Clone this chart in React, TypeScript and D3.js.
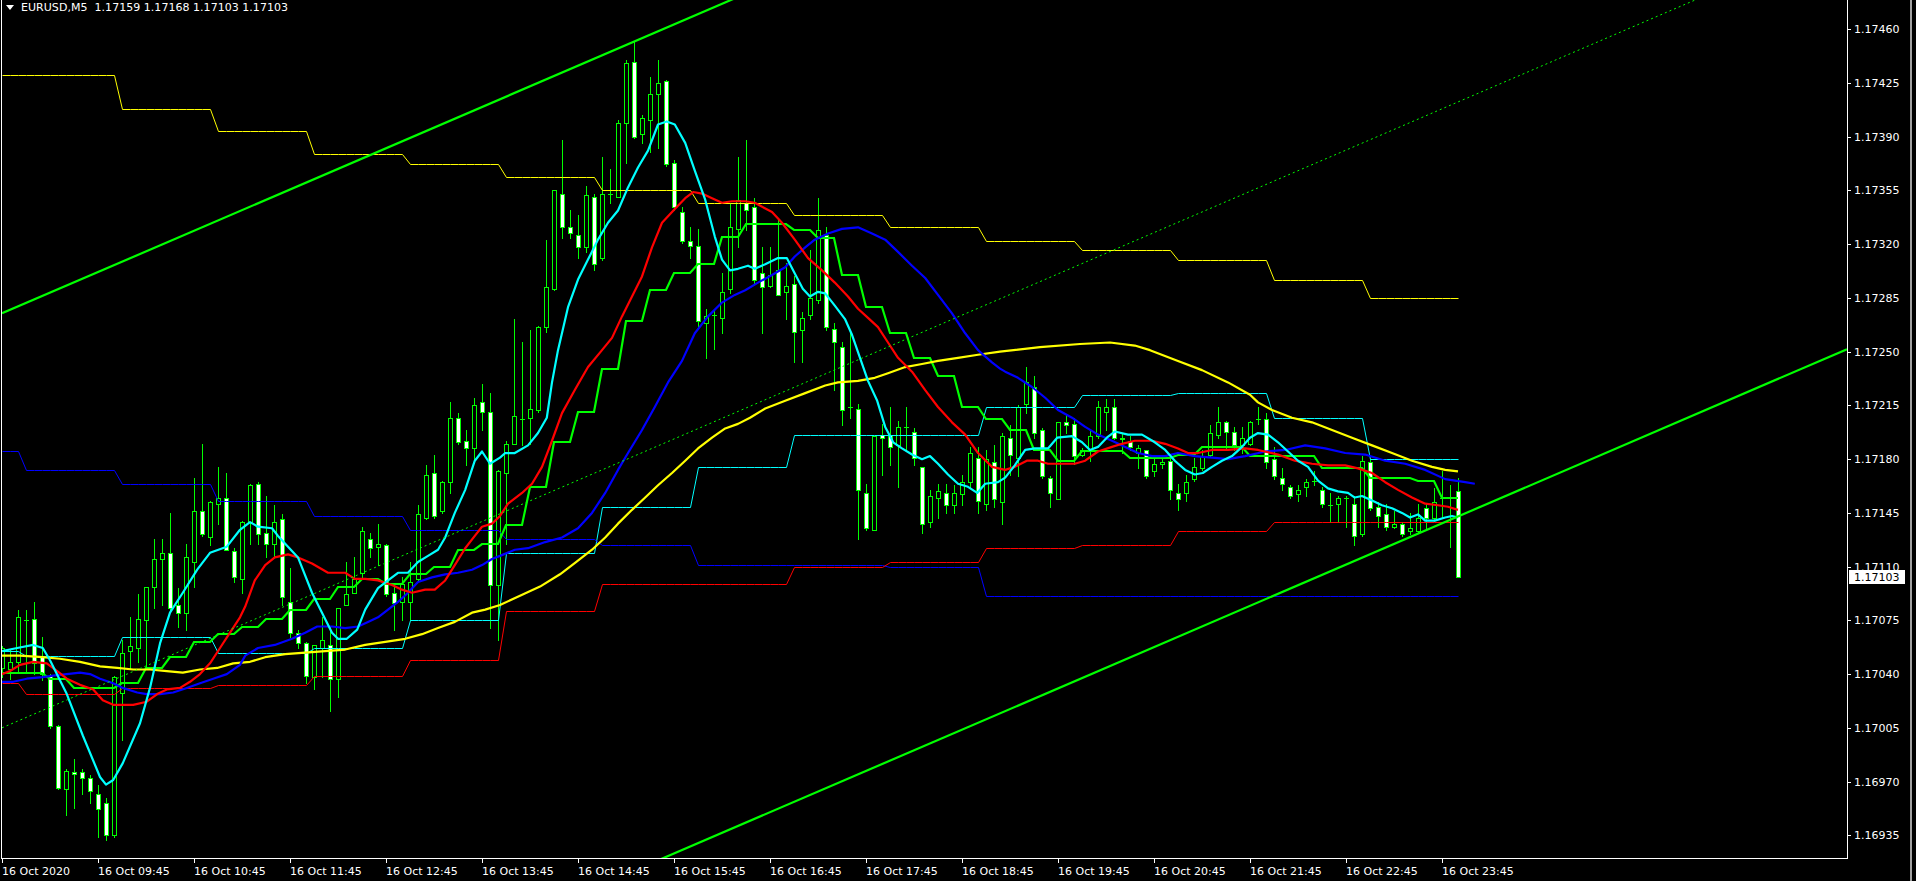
import React from "react";
import * as d3 from "d3";

// ---------- DATA (EURUSD M5, 16 Oct 2020 08:45 .. 23:55) ----------
const candleOpen = [1.17044,1.17043,1.17048,1.17075,1.17076,1.17051,1.17039,1.17006,1.16965,1.16976,1.16976,1.16972,1.16962,1.16956,1.16935,1.17028,1.17055,1.17057,1.17075,1.17097,1.17115,1.17119,1.17085,1.17080,1.17113,1.17146,1.17129,1.17151,1.17155,1.17120,1.17102,1.17139,1.17164,1.17132,1.17125,1.17141,1.17087,1.17067,1.17060,1.17038,1.17057,1.17059,1.17037,1.17085,1.17093,1.17106,1.17128,1.17123,1.17124,1.17093,1.17087,1.17087,1.17102,1.17142,1.17171,1.17146,1.17165,1.17207,1.17192,1.17187,1.17217,1.17211,1.17098,1.17171,1.17190,1.17206,1.17207,1.17212,1.17266,1.17291,1.17353,1.17331,1.17326,1.17318,1.17351,1.17311,1.17353,1.17351,1.17399,1.17439,1.17392,1.17401,1.17418,1.17426,1.17373,1.17341,1.17322,1.17319,1.17269,1.17274,1.17272,1.17291,1.17330,1.17347,1.17344,1.17301,1.17293,1.17303,1.17289,1.17294,1.17264,1.17274,1.17284,1.17326,1.17265,1.17253,1.17214,1.17213,1.17158,1.17134,1.17196,1.17196,1.17189,1.17201,1.17198,1.17175,1.17139,1.17155,1.17158,1.17150,1.17157,1.17165,1.17181,1.17151,1.17178,1.17152,1.17194,1.17181,1.17216,1.17227,1.17199,1.17168,1.17154,1.17204,1.17203,1.17183,1.17186,1.17195,1.17211,1.17214,1.17193,1.17192,1.17184,1.17186,1.17172,1.17177,1.17179,1.17158,1.17158,1.17167,1.17174,1.17183,1.17196,1.17204,1.17198,1.17189,1.17190,1.17206,1.17206,1.17180,1.17168,1.17162,1.17157,1.17162,1.17166,1.17160,1.17150,1.17151,1.17155,1.17151,1.17131,1.17178,1.17149,1.17144,1.17136,1.17138,1.17133,1.17133,1.17148,1.17142,1.17155,1.17155,1.17159];
const candleHigh = [1.17058,1.17056,1.17082,1.17082,1.17087,1.17064,1.17040,1.17007,1.16978,1.16985,1.16978,1.16974,1.16968,1.16959,1.17039,1.17062,1.17077,1.17092,1.17097,1.17128,1.17128,1.17145,1.17096,1.17125,1.17168,1.17190,1.17153,1.17175,1.17171,1.17122,1.17140,1.17164,1.17165,1.17156,1.17150,1.17144,1.17109,1.17069,1.17061,1.17059,1.17077,1.17071,1.17083,1.17113,1.17116,1.17136,1.17132,1.17138,1.17125,1.17099,1.17103,1.17113,1.17150,1.17176,1.17183,1.17166,1.17217,1.17210,1.17199,1.17220,1.17229,1.17223,1.17173,1.17192,1.17271,1.17256,1.17264,1.17267,1.17323,1.17355,1.17388,1.17342,1.17339,1.17358,1.17353,1.17377,1.17369,1.17401,1.17440,1.17452,1.17404,1.17429,1.17440,1.17427,1.17375,1.17344,1.17331,1.17330,1.17278,1.17278,1.17301,1.17347,1.17377,1.17388,1.17350,1.17318,1.17318,1.17337,1.17308,1.17299,1.17276,1.17316,1.17350,1.17331,1.17269,1.17256,1.17264,1.17216,1.17164,1.17195,1.17203,1.17214,1.17205,1.17214,1.17200,1.17175,1.17160,1.17164,1.17164,1.17163,1.17170,1.17188,1.17188,1.17186,1.17189,1.17197,1.17202,1.17215,1.17240,1.17234,1.17200,1.17169,1.17204,1.17209,1.17207,1.17187,1.17199,1.17218,1.17219,1.17219,1.17197,1.17195,1.17189,1.17186,1.17181,1.17181,1.17182,1.17164,1.17170,1.17181,1.17186,1.17202,1.17214,1.17205,1.17201,1.17201,1.17205,1.17214,1.17210,1.17188,1.17174,1.17163,1.17163,1.17167,1.17172,1.17162,1.17158,1.17156,1.17156,1.17156,1.17182,1.17180,1.17152,1.17151,1.17146,1.17139,1.17145,1.17151,1.17151,1.17161,1.17172,1.17163,1.17168];
const candleLow = [1.17038,1.17037,1.17041,1.17041,1.17040,1.17036,1.17005,1.16965,1.16948,1.16953,1.16962,1.16956,1.16934,1.16932,1.16934,1.16997,1.17044,1.17048,1.17044,1.17083,1.17085,1.17082,1.17071,1.17069,1.17097,1.17130,1.17124,1.17138,1.17121,1.17100,1.17093,1.17125,1.17125,1.17116,1.17116,1.17085,1.17064,1.17057,1.17034,1.17030,1.17038,1.17016,1.17025,1.17085,1.17093,1.17103,1.17116,1.17111,1.17091,1.17069,1.17075,1.17075,1.17101,1.17141,1.17142,1.17145,1.17158,1.17190,1.17176,1.17179,1.17199,1.17070,1.17062,1.17125,1.17190,1.17189,1.17190,1.17211,1.17263,1.17290,1.17324,1.17324,1.17311,1.17315,1.17303,1.17310,1.17347,1.17351,1.17373,1.17389,1.17386,1.17380,1.17383,1.17371,1.17342,1.17321,1.17311,1.17267,1.17246,1.17252,1.17262,1.17288,1.17318,1.17329,1.17295,1.17262,1.17292,1.17287,1.17271,1.17243,1.17243,1.17271,1.17282,1.17264,1.17225,1.17202,1.17207,1.17128,1.17134,1.17134,1.17170,1.17176,1.17162,1.17186,1.17176,1.17132,1.17136,1.17142,1.17145,1.17145,1.17150,1.17162,1.17145,1.17147,1.17149,1.17138,1.17170,1.17169,1.17210,1.17194,1.17168,1.17149,1.17154,1.17197,1.17177,1.17182,1.17179,1.17194,1.17199,1.17193,1.17184,1.17186,1.17174,1.17168,1.17169,1.17174,1.17154,1.17147,1.17153,1.17166,1.17173,1.17182,1.17194,1.17186,1.17186,1.17184,1.17189,1.17203,1.17174,1.17167,1.17160,1.17155,1.17153,1.17156,1.17163,1.17149,1.17139,1.17139,1.17136,1.17124,1.17130,1.17147,1.17136,1.17134,1.17135,1.17130,1.17131,1.17132,1.17134,1.17140,1.17142,1.17123,1.17103];
const candleClose = [1.17057,1.17048,1.17077,1.17075,1.17047,1.17040,1.17006,1.16966,1.16977,1.16975,1.16972,1.16964,1.16952,1.16935,1.17038,1.17054,1.17058,1.17076,1.17097,1.17115,1.17119,1.17083,1.17080,1.17116,1.17146,1.17131,1.17152,1.17155,1.17121,1.17103,1.17139,1.17163,1.17131,1.17125,1.17139,1.17090,1.17067,1.17060,1.17039,1.17059,1.17062,1.17037,1.17083,1.17092,1.17102,1.17133,1.17122,1.17125,1.17092,1.17086,1.17099,1.17100,1.17144,1.17170,1.17143,1.17165,1.17207,1.17191,1.17187,1.17215,1.17211,1.17098,1.17172,1.17190,1.17208,1.17206,1.17213,1.17266,1.17292,1.17355,1.17331,1.17327,1.17318,1.17352,1.17307,1.17353,1.17353,1.17399,1.17438,1.17390,1.17402,1.17418,1.17425,1.17372,1.17344,1.17322,1.17319,1.17270,1.17273,1.17274,1.17289,1.17331,1.17349,1.17342,1.17297,1.17292,1.17300,1.17287,1.17293,1.17263,1.17272,1.17285,1.17329,1.17266,1.17256,1.17212,1.17214,1.17160,1.17135,1.17195,1.17194,1.17188,1.17201,1.17201,1.17181,1.17138,1.17156,1.17159,1.17150,1.17158,1.17165,1.17184,1.17153,1.17180,1.17154,1.17195,1.17183,1.17214,1.17230,1.17197,1.17169,1.17158,1.17204,1.17202,1.17182,1.17186,1.17195,1.17214,1.17214,1.17194,1.17194,1.17188,1.17187,1.17169,1.17177,1.17178,1.17160,1.17154,1.17165,1.17175,1.17182,1.17197,1.17204,1.17198,1.17189,1.17194,1.17204,1.17206,1.17178,1.17169,1.17164,1.17156,1.17160,1.17165,1.17166,1.17151,1.17150,1.17155,1.17155,1.17130,1.17179,1.17148,1.17143,1.17136,1.17138,1.17131,1.17135,1.17142,1.17142,1.17152,1.17155,1.17155,1.17103];

// moving averages: [bar index, price]
const maCyan: [number, number][] = [[0,1.17055],[1.9,1.17057],[3.9,1.17059],[5.1,1.17057],[6,1.17049],[8.1,1.17027],[10.1,1.17000],[12.25,1.16973],[13,1.16968],[13.9,1.16971],[15.1,1.16982],[17.25,1.17008],[18.5,1.17031],[19.75,1.17060],[21,1.17080],[22.6,1.17093],[24.4,1.17108],[26,1.17119],[28.1,1.17123],[29.75,1.17134],[31,1.17139],[32,1.17136],[33.75,1.17135],[34.5,1.17130],[35.75,1.17123],[37,1.17116],[38.75,1.17093],[40,1.17080],[41.25,1.17067],[42,1.17063],[43.1,1.17063],[44.4,1.17069],[45.4,1.17082],[47,1.17096],[48.25,1.17101],[49.5,1.17106],[50.75,1.17106],[52,1.17113],[53.25,1.17117],[54.5,1.17121],[55.4,1.17129],[56.6,1.17145],[57.9,1.17160],[59.1,1.17179],[60,1.17185],[61,1.17177],[62.25,1.17181],[62.9,1.17184],[64.1,1.17184],[65.75,1.17189],[67,1.17197],[68.1,1.17207],[68.75,1.17230],[69.5,1.17251],[70.75,1.17279],[72,1.17297],[73.25,1.17310],[74.5,1.17323],[75.75,1.17334],[77,1.17342],[78.25,1.17357],[79.5,1.17370],[80.75,1.17381],[82,1.17398],[83.1,1.17400],[84.1,1.17398],[85.4,1.17386],[86.6,1.17368],[87.9,1.17349],[89.1,1.17325],[90,1.17310],[91,1.17303],[92,1.17304],[93.25,1.17306],[94.1,1.17304],[95.4,1.17307],[97,1.17311],[98.1,1.17311],[99.1,1.17301],[100.1,1.17291],[101,1.17286],[102,1.17289],[102.9,1.17288],[104.1,1.17280],[105.4,1.17271],[106.25,1.17261],[107.25,1.17246],[108.25,1.17231],[109.4,1.17218],[110.4,1.17201],[111.4,1.17191],[112.5,1.17187],[113.75,1.17183],[115,1.17180],[116,1.17182],[117,1.17177],[118.25,1.17170],[119.5,1.17164],[120.75,1.17162],[121.9,1.17158],[122.9,1.17164],[124.5,1.17165],[125.4,1.17168],[126.6,1.17176],[127.9,1.17186],[129.1,1.17187],[130.75,1.17187],[131.9,1.17194],[133.75,1.17195],[135,1.17191],[136,1.17186],[137,1.17188],[138.1,1.17194],[139.1,1.17198],[140.75,1.17196],[142.5,1.17196],[144.1,1.17191],[145.4,1.17186],[146.6,1.17179],[147.9,1.17173],[149.1,1.17170],[150.1,1.17171],[151.25,1.17175],[152.5,1.17179],[153.75,1.17182],[155,1.17188],[156,1.17194],[157,1.17197],[158.25,1.17196],[159.5,1.17191],[160.75,1.17185],[162,1.17179],[163.25,1.17175],[164.5,1.17166],[165.75,1.17161],[167,1.17159],[168.25,1.17158],[169.1,1.17155],[170,1.17156],[171.25,1.17153],[172.5,1.17150],[173.75,1.17148],[175,1.17145],[176,1.17142],[177,1.17144],[177.9,1.17140],[179.1,1.17140],[180.4,1.17142],[181.25,1.17143],[182,1.17142]];
const maRed: [number, number][] = [[0,1.17040],[1,1.17042],[2.25,1.17046],[3.9,1.17048],[5.6,1.17047],[6.9,1.17042],[8.1,1.17037],[9.75,1.17033],[11.4,1.17030],[12.6,1.17023],[13.9,1.17020],[16.4,1.17020],[18.1,1.17022],[19.4,1.17027],[20.6,1.17030],[22.25,1.17031],[23.5,1.17035],[24.75,1.17040],[26,1.17047],[27.25,1.17057],[28.5,1.17067],[29.75,1.17077],[30.4,1.17084],[31.6,1.17101],[32.9,1.17111],[34.1,1.17116],[35.75,1.17118],[37,1.17116],[38.75,1.17112],[40.75,1.17106],[42.9,1.17106],[44.1,1.17102],[45.4,1.17102],[47,1.17101],[48.75,1.17098],[50,1.17095],[51.25,1.17093],[52.9,1.17095],[54.1,1.17095],[55.4,1.17101],[56.6,1.17111],[57.9,1.17122],[59.1,1.17130],[60,1.17136],[61.25,1.17138],[62.25,1.17143],[63.25,1.17151],[65,1.17158],[66.25,1.17164],[67.5,1.17175],[68.75,1.17192],[70,1.17210],[71.6,1.17225],[73.25,1.17240],[75,1.17251],[76.25,1.17259],[77.5,1.17273],[78.75,1.17286],[80,1.17299],[81.25,1.17318],[82.5,1.17334],[84.1,1.17343],[85.4,1.17350],[86.4,1.17354],[87.5,1.17353],[88.75,1.17350],[90,1.17347],[91.25,1.17348],[92.9,1.17348],[94.1,1.17347],[96.25,1.17341],[97.5,1.17334],[99.1,1.17323],[100.75,1.17311],[102.5,1.17303],[104.1,1.17295],[105.75,1.17286],[107,1.17278],[108.25,1.17272],[109.5,1.17266],[110.75,1.17256],[112,1.17246],[113.75,1.17237],[115.4,1.17225],[117,1.17214],[118.75,1.17204],[120.4,1.17196],[122,1.17184],[123.75,1.17175],[125.4,1.17173],[126.6,1.17175],[128.1,1.17179],[129.5,1.17179],[130.75,1.17177],[132.5,1.17177],[134.1,1.17177],[135.4,1.17179],[137,1.17185],[138.75,1.17188],[140,1.17190],[141.6,1.17192],[143.75,1.17192],[145.4,1.17190],[147,1.17187],[148.25,1.17184],[149.5,1.17184],[151.25,1.17186],[153.25,1.17186],[155.4,1.17187],[157,1.17186],[159.5,1.17183],[161.6,1.17179],[163.75,1.17177],[165.75,1.17176],[167.9,1.17176],[169.5,1.17174],[171.25,1.17171],[172.9,1.17165],[174.5,1.17160],[176.25,1.17155],[177.9,1.17151],[179.5,1.17150],[180.75,1.17149],[182,1.17147]];
const maBlue: [number, number][] = [[0,1.17035],[1.4,1.17035],[3.1,1.17037],[5.1,1.17038],[6.4,1.17039],[8.1,1.17040],[9.75,1.17041],[11,1.17040],[12.25,1.17037],[13.9,1.17034],[15.1,1.17031],[16.9,1.17028],[18.1,1.17027],[19.75,1.17027],[21.4,1.17028],[23.1,1.17031],[24.75,1.17034],[26.4,1.17037],[28.1,1.17040],[29.75,1.17046],[30.4,1.17052],[32,1.17057],[34.1,1.17059],[36.25,1.17063],[37.9,1.17067],[39.4,1.17071],[41.25,1.17071],[42.9,1.17070],[44.5,1.17071],[45.75,1.17074],[47,1.17077],[48.25,1.17082],[49.5,1.17087],[50.75,1.17093],[52,1.17100],[53.75,1.17103],[55.4,1.17105],[57,1.17106],[58.75,1.17108],[60,1.17111],[61.25,1.17115],[62.25,1.17117],[64.1,1.17121],[65.75,1.17122],[67.9,1.17126],[70,1.17129],[72,1.17135],[73.75,1.17145],[75.4,1.17158],[77,1.17173],[78.25,1.17184],[80,1.17199],[81.6,1.17214],[83.25,1.17230],[85,1.17244],[86.6,1.17262],[88.25,1.17273],[90,1.17282],[91.6,1.17287],[92.9,1.17290],[94.5,1.17295],[96.25,1.17300],[97.9,1.17305],[99.1,1.17312],[100.4,1.17318],[101.6,1.17323],[103.25,1.17327],[105,1.17330],[107,1.17331],[108.75,1.17327],[110.4,1.17323],[112,1.17315],[113.75,1.17306],[115.4,1.17298],[117,1.17287],[118.75,1.17275],[120.4,1.17262],[122,1.17251],[123.75,1.17243],[124.75,1.17239],[125.4,1.17237],[127,1.17233],[128.75,1.17227],[130.4,1.17220],[132,1.17212],[133.75,1.17207],[135.4,1.17201],[137,1.17196],[138.75,1.17192],[140.4,1.17188],[142,1.17184],[143.75,1.17182],[145.4,1.17182],[147,1.17184],[149.1,1.17182],[151.25,1.17181],[153.25,1.17180],[155.4,1.17182],[157.9,1.17185],[160.4,1.17186],[162.9,1.17189],[165.4,1.17187],[167.9,1.17184],[170.4,1.17183],[172.9,1.17179],[175.4,1.17177],[177.9,1.17173],[180.4,1.17167],[182.9,1.17165],[184.1,1.17164]];
const maYellow: [number, number][] = [[0,1.17052],[2.25,1.17052],[5.1,1.17051],[7.25,1.17050],[9.75,1.17048],[12.25,1.17045],[14.4,1.17044],[16.4,1.17043],[18.5,1.17043],[20.6,1.17042],[22.6,1.17041],[24.75,1.17043],[26.9,1.17044],[28.9,1.17047],[31,1.17048],[32.9,1.17051],[35.4,1.17053],[37.9,1.17054],[40.4,1.17055],[42.9,1.17056],[45.4,1.17059],[47.9,1.17061],[50.4,1.17063],[52.5,1.17066],[54.5,1.17070],[56.6,1.17074],[58.75,1.17080],[60.4,1.17082],[62.25,1.17085],[64.75,1.17091],[67.25,1.17097],[69.75,1.17105],[71.75,1.17113],[73.75,1.17121],[75.4,1.17129],[77,1.17138],[78.75,1.17147],[80.4,1.17155],[82,1.17163],[83.75,1.17171],[85.4,1.17179],[87,1.17187],[88.75,1.17194],[90.4,1.17200],[92,1.17203],[93.5,1.17207],[95.4,1.17213],[97.9,1.17218],[100.4,1.17223],[102.9,1.17228],[104.5,1.17230],[107,1.17231],[109.1,1.17233],[110.75,1.17236],[112.9,1.17240],[115,1.17242],[117,1.17244],[119.5,1.17246],[122,1.17248],[124.75,1.17250],[129.75,1.17253],[134.75,1.17255],[138.5,1.17256],[141.6,1.17254],[143.5,1.17251],[147,1.17244],[150,1.17238],[153.25,1.17230],[156,1.17222],[157,1.17217],[158.75,1.17212],[161.25,1.17207],[163.75,1.17204],[166.25,1.17199],[168.75,1.17194],[171.25,1.17189],[173.75,1.17184],[176.25,1.17179],[178.75,1.17175],[180.4,1.17173],[182,1.17172]];

// 15-minute step line (one value per 3 bars)
const stepGreen = [1.17041,1.17041,1.17037,1.17031,1.17031,1.17034,1.17044,1.17051,1.17061,1.17066,1.17071,1.17076,1.17082,1.17089,1.17097,1.17102,1.17099,1.17105,1.17110,1.17121,1.17125,1.17137,1.17162,1.17191,1.17211,1.17239,1.17270,1.17290,1.17301,1.17307,1.17325,1.17333,1.17333,1.17329,1.17324,1.17300,1.17279,1.17262,1.17246,1.17234,1.17214,1.17206,1.17199,1.17186,1.17179,1.17185,1.17185,1.17181,1.17181,1.17183,1.17188,1.17188,1.17182,1.17182,1.17182,1.17174,1.17174,1.17168,1.17168,1.17166,1.17155];

// hourly levels (08:xx, 09:xx ... 23:xx)
const levelYellow = [1.17430,1.17430,1.17408,1.17394,1.17379,1.17372,1.17364,1.17355,1.17347,1.17339,1.17331,1.17322,1.17316,1.17310,1.17297,1.17285];
const levelCyan = [1.17055,1.17052,1.17064,1.17054,1.17057,1.17075,1.17119,1.17149,1.17175,1.17196,1.17196,1.17214,1.17222,1.17223,1.17207,1.17180];
const levelBlue = [1.17185,1.17173,1.17164,1.17153,1.17143,1.17134,1.17128,1.17124,1.17111,1.17111,1.17110,1.17091,1.17091,1.17091,1.17091,1.17091];
const levelRed = [1.17034,1.17027,1.17031,1.17033,1.17039,1.17049,1.17081,1.17099,1.17099,1.17110,1.17113,1.17122,1.17124,1.17133,1.17139,1.17139];

// channel objects: [bar, price] anchors
const channelUpper: [number, number][] = [[0, 1.17275], [100, 1.17499]];
const channelLower: [number, number][] = [[0, 1.16735], [100, 1.16959]];
const channelMid: [number, number][] = [[0, 1.17005], [100, 1.17229]];

const priceTicks = [1.17460,1.17425,1.17390,1.17355,1.17320,1.17285,1.17250,1.17215,1.17180,1.17145,1.17110,1.17075,1.17040,1.17005,1.16970,1.16935];
const timeTickBars = [0,12,24,36,48,60,72,84,96,108,120,132,144,156,168,180];
const timeTickLabels = ["16 Oct 2020","16 Oct 09:45","16 Oct 10:45","16 Oct 11:45","16 Oct 12:45","16 Oct 13:45","16 Oct 14:45","16 Oct 15:45","16 Oct 16:45","16 Oct 17:45","16 Oct 18:45","16 Oct 19:45","16 Oct 20:45","16 Oct 21:45","16 Oct 22:45","16 Oct 23:45"];
const titleText = "EURUSD,M5  1.17159 1.17168 1.17103 1.17103";
const lastPrice = 1.17103;

const FONT = "'DejaVu Sans', Verdana, sans-serif";
const LIME = "#00ff00";

export default function App() {
  const W = 1916, H = 881;
  const L = 2, R = 1847, B = 858;
  const x = d3.scaleLinear().domain([0, 182]).range([2, 1458]);
  const y = d3.scaleLinear().domain([1.16935, 1.1746]).range([835.3, 29.3]);
  const px = (b: number) => Math.round(x(b));
  const py = (v: number) => Math.round(y(v));
  const bars = d3.range(candleOpen.length);

  const maPath = (data: [number, number][]) =>
    d3.line<[number, number]>().x((d) => x(d[0])).y((d) => y(d[1]))(data) || "";

  const hourOf = (b: number) => (b < 3 ? 0 : Math.floor((b - 3) / 12) + 1);
  const blockOf = (b: number) => Math.floor(b / 3);
  const stepPath = (vals: number[], idx: (b: number) => number, off: number) =>
    d3.line<number>().x((b) => px(b) + off).y((b) => py(vals[idx(b)]) + off)(bars) || "";

  const chanPath = (a: [number, number][]) => {
    const [[b0, p0], [b1, p1]] = a;
    const bl = x.invert(L), br = x.invert(R);
    const pAt = (b: number) => p0 + ((p1 - p0) * (b - b0)) / (b1 - b0);
    return d3.line<number>().x((b) => x(b)).y((b) => y(pAt(b)))([bl, br]) || "";
  };

  return (
    <div style={{ position: "fixed", left: 0, top: 0, width: W, height: H, background: "#000" }}>
      <svg width={W} height={H} style={{ display: "block" }}>
        <defs>
          <clipPath id="plot">
            <rect x={L} y={0} width={R - L} height={B} />
          </clipPath>
        </defs>
        <rect x={0} y={0} width={W} height={H} fill="#000" />

        <g clipPath="url(#plot)">
          {/* candles */}
          <g shapeRendering="crispEdges">
            {bars.map((i) => {
              const o = candleOpen[i], c = candleClose[i];
              const cx = px(i);
              const yh = py(candleHigh[i]), yl = py(candleLow[i]);
              const yo = py(o), yc = py(c);
              const top = Math.min(yo, yc), bot = Math.max(yo, yc);
              const bull = c > o;
              return (
                <g key={i}>
                  <line x1={cx + 0.5} x2={cx + 0.5} y1={yh} y2={yl + 1} stroke={LIME} strokeWidth={1} />
                  {bot - top < 1 ? (
                    <line x1={cx - 2} x2={cx + 3} y1={top + 0.5} y2={top + 0.5} stroke={LIME} strokeWidth={1} />
                  ) : (
                    <rect x={cx - 1.5} y={top + 0.5} width={4} height={bot - top} fill={bull ? "#000" : "#fff"} stroke={LIME} strokeWidth={1} />
                  )}
                </g>
              );
            })}
          </g>

          {/* hourly thin levels */}
          <g fill="none" strokeWidth={1}>
            <path d={stepPath(levelYellow, hourOf, 0.5)} stroke="#ffff00" />
            <path d={stepPath(levelCyan, hourOf, 0.5)} stroke="#00ffff" />
            <path d={stepPath(levelBlue, hourOf, 0.5)} stroke="#0000ff" />
            <path d={stepPath(levelRed, hourOf, 0.5)} stroke="#ff0000" />
          </g>

          {/* 15m step line */}
          <path d={stepPath(stepGreen, blockOf, 0)} fill="none" stroke={LIME} strokeWidth={2.2} />

          {/* moving averages */}
          <g fill="none" strokeWidth={2.2} strokeLinejoin="round">
            <path d={maPath(maYellow)} stroke="#ffff00" />
            <path d={maPath(maBlue)} stroke="#0000ff" />
            <path d={maPath(maRed)} stroke="#ff0000" />
            <path d={maPath(maCyan)} stroke="#00ffff" />
          </g>

          {/* channel */}
          <path d={chanPath(channelUpper)} stroke={LIME} strokeWidth={2.2} fill="none" />
          <path d={chanPath(channelLower)} stroke={LIME} strokeWidth={2.2} fill="none" />
          <path d={chanPath(channelMid)} stroke={LIME} strokeWidth={1} strokeDasharray="2,3" fill="none" />
        </g>

        {/* frame */}
        <g shapeRendering="crispEdges" stroke="#fff" strokeWidth={1}>
          <line x1={1.5} x2={1.5} y1={0} y2={B + 1} />
          <line x1={1} x2={R + 1} y1={B + 0.5} y2={B + 0.5} />
          <line x1={R + 0.5} x2={R + 0.5} y1={0} y2={B + 1} />
        </g>
        <rect x={1910} y={0} width={2} height={H} fill="#a0a0a0" />

        {/* price axis */}
        <g fontFamily={FONT} fontSize={11} fill="#fff">
          {priceTicks.map((v) => {
            const yy = py(v);
            return (
              <g key={v}>
                <line x1={R + 1} x2={R + 4} y1={yy + 0.5} y2={yy + 0.5} stroke="#fff" shapeRendering="crispEdges" />
                <text x={1854} y={yy + 4}>{v.toFixed(5)}</text>
              </g>
            );
          })}
          <rect x={1849} y={py(lastPrice) - 7} width={56} height={14} fill="#fff" />
          <text x={1854} y={py(lastPrice) + 4} fill="#000">{lastPrice.toFixed(5)}</text>
        </g>

        {/* time axis */}
        <g fontFamily={FONT} fontSize={11} fill="#fff">
          {timeTickBars.map((b, k) => {
            const xx = px(b);
            return (
              <g key={b}>
                <line x1={xx + 0.5} x2={xx + 0.5} y1={B + 1} y2={B + 5} stroke="#fff" shapeRendering="crispEdges" />
                <text x={xx} y={875}>{timeTickLabels[k]}</text>
              </g>
            );
          })}
        </g>

        {/* title */}
        <polygon points="6,5 14,5 10,10" fill="#fff" />
        <text x={21} y={11} fontFamily={FONT} fontSize={11} fill="#fff" textLength={267} lengthAdjust="spacing" style={{ whiteSpace: "pre" }}>
          {titleText}
        </text>
      </svg>
    </div>
  );
}
